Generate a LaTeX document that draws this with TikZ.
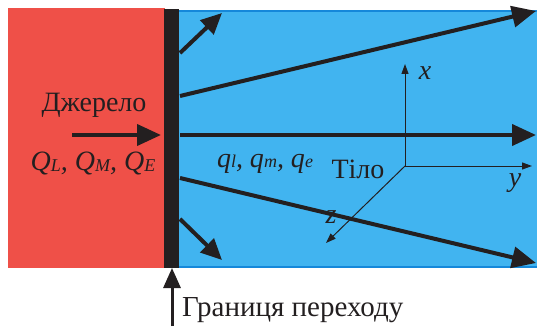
\documentclass[tikz,border=0pt]{standalone}
\usepackage{fontspec}
\setmainfont{Liberation Serif}
\usetikzlibrary{arrows.meta}
\definecolor{srcred}{HTML}{EF5048}
\definecolor{bodyblue}{HTML}{41B4F0}
\definecolor{edgeblue}{HTML}{1588DA}
\definecolor{ink}{HTML}{231F20}
\tikzset{
  flux/.style={draw=ink, line width=4pt, -{Triangle[length=24pt,width=21pt]}},
  smallflux/.style={draw=ink, line width=4pt, -{Triangle[length=21pt,width=19pt]}},
  axis/.style={draw=ink, line width=1pt, -{Triangle[length=10pt,width=7pt]}},
  lbl/.style={inner sep=0pt, text=ink, font=\fontsize{28}{32}\selectfont},
  ilbl/.style={inner sep=0pt, text=ink, font=\fontsize{28}{32}\selectfont\itshape}
}
\newcommand{\sbs}[1]{\raisebox{-1pt}{\fontsize{18}{21}\selectfont\itshape #1}}
\begin{document}
\begin{tikzpicture}[x=1pt,y=-1pt]
\useasboundingbox (0,0) rectangle (537,331);
\fill[white] (0,0) rectangle (537,331);
% regions
\fill[srcred] (8,8) rectangle (165,268);
\fill[bodyblue] (179,11) rectangle (537,268);
\draw[edgeblue, line width=2pt] (179,11) -- (537,11);
\draw[edgeblue, line width=2pt] (179,267) -- (537,267);
\fill[ink] (164,9) rectangle (179,268);
% coordinates
\coordinate (u1s) at (180,53);   \coordinate (u1e) at (222,13);
\coordinate (u2s) at (180,96);   \coordinate (u2e) at (536,11);
\coordinate (ms)  at (180,135);  \coordinate (me)  at (536,135);
\coordinate (l2s) at (180,178);  \coordinate (l2e) at (536,263);
\coordinate (l1s) at (180,219);  \coordinate (l1e) at (222,260);
\coordinate (ins) at (72,135);   \coordinate (ine) at (161,135);
\coordinate (bs)  at (172,326);  \coordinate (be)  at (172,268);
\coordinate (o)   at (405,166);
\coordinate (ax)  at (405,64);
\coordinate (ay)  at (532,166);
\coordinate (az)  at (326,243);
% arrows
\draw[smallflux] (u1s) -- (u1e);
\draw[flux] (u2s) -- (u2e);
\draw[flux] (ms) -- (me);
\draw[flux] (l2s) -- (l2e);
\draw[smallflux] (l1s) -- (l1e);
\draw[flux] (ins) -- (ine);
\draw[draw=ink, line width=3pt, -{Triangle[length=20pt,width=17pt]}] (bs) -- (be);
% axes
\draw[axis] (o) -- (ax);
\draw[axis] (o) -- (ay);
\draw[axis] (o) -- (az);
% labels
\node[lbl, anchor=base] (src) at (94,112) {Джерело};
\node[ilbl, anchor=base] (Q) at (93,170) {Q\sbs{L}, Q\sbs{M}, Q\sbs{E}};
\node[ilbl, anchor=base] (q) at (265,167) {q\sbs{l}, q\sbs{m}, q\sbs{e}};
\node[lbl, anchor=base] (body) at (358,178) {Тіло};
\node[ilbl, anchor=base] (xl) at (425,80) {x};
\node[ilbl, anchor=base] (yl) at (515,186) {y};
\node[ilbl, anchor=base] (zl) at (331,223) {z};
\node[lbl, anchor=base west, font=\fontsize{29}{33}\selectfont] (bnd) at (182,316) {Границя переходу};
\end{tikzpicture}
\end{document}
